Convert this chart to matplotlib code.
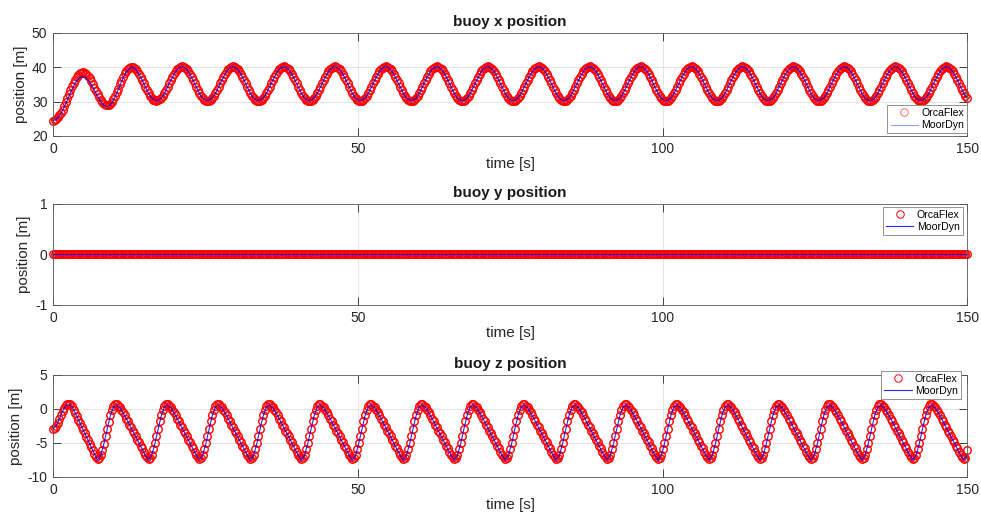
import numpy as np
import matplotlib
matplotlib.use("Agg")
import matplotlib.pyplot as plt

# sampling intervals of the two series [s]
orca_dt = 0.26125
moor_dt = 0.5225

# ---------------- buoy x position [m] ----------------
orcaflex_x = [
    24.5, 24.6, 24.9, 25.4, 26.0, 26.8, 27.7, 28.8, 29.9, 31.1, 32.2, 33.4, 34.5, 35.5, 36.4, 37.2,
    37.8, 38.2, 38.4, 38.5, 38.4, 38.0, 37.5, 36.8, 36.0, 35.1, 34.1, 33.1, 32.2, 31.3, 30.5, 29.8,
    29.3, 29.0, 28.9, 29.0, 29.4, 29.9, 30.7, 31.6, 32.7, 33.8, 35.0, 36.1, 37.2, 38.2, 38.9, 39.5, 39.9,
    40.1, 40.1, 39.8, 39.4, 38.8, 38.0, 37.2, 36.2, 35.3, 34.3, 33.3, 32.4, 31.7, 31.1, 30.6, 30.4, 30.3, 30.4, 30.7, 31.1, 31.7, 32.4, 33.3, 34.3, 35.3, 36.2, 37.2, 38.0, 38.8, 39.4, 39.8, 40.1,  # 1
    40.3, 40.2, 39.9, 39.5, 38.8, 38.1, 37.2, 36.2, 35.3, 34.3, 33.3, 32.4, 31.7, 31.0, 30.6, 30.3, 30.2, 30.3, 30.6, 31.0, 31.7, 32.4, 33.3, 34.3, 35.3, 36.2, 37.2, 38.1, 38.8, 39.5, 39.9, 40.2,  # 2
    40.3, 40.2, 39.9, 39.5, 38.8, 38.1, 37.2, 36.2, 35.3, 34.3, 33.3, 32.4, 31.7, 31.0, 30.6, 30.3, 30.2, 30.3, 30.6, 31.0, 31.7, 32.4, 33.3, 34.3, 35.3, 36.2, 37.2, 38.1, 38.8, 39.5, 39.9, 40.2,  # 3
    40.3, 40.2, 39.9, 39.5, 38.8, 38.1, 37.2, 36.2, 35.3, 34.3, 33.3, 32.4, 31.7, 31.0, 30.6, 30.3, 30.2, 30.3, 30.6, 31.0, 31.7, 32.4, 33.3, 34.3, 35.3, 36.2, 37.2, 38.1, 38.8, 39.5, 39.9, 40.2,  # 4
    40.3, 40.2, 39.9, 39.5, 38.8, 38.1, 37.2, 36.2, 35.3, 34.3, 33.3, 32.4, 31.7, 31.0, 30.6, 30.3, 30.2, 30.3, 30.6, 31.0, 31.7, 32.4, 33.3, 34.3, 35.3, 36.2, 37.2, 38.1, 38.8, 39.5, 39.9, 40.2,  # 5
    40.3, 40.2, 39.9, 39.5, 38.8, 38.1, 37.2, 36.2, 35.3, 34.3, 33.3, 32.4, 31.7, 31.0, 30.6, 30.3, 30.2, 30.3, 30.6, 31.0, 31.7, 32.4, 33.3, 34.3, 35.3, 36.2, 37.2, 38.1, 38.8, 39.5, 39.9, 40.2,  # 6
    40.3, 40.2, 39.9, 39.5, 38.8, 38.1, 37.2, 36.2, 35.3, 34.3, 33.3, 32.4, 31.7, 31.0, 30.6, 30.3, 30.2, 30.3, 30.6, 31.0, 31.7, 32.4, 33.3, 34.3, 35.3, 36.2, 37.2, 38.1, 38.8, 39.5, 39.9, 40.2,  # 7
    40.3, 40.2, 39.9, 39.5, 38.8, 38.1, 37.2, 36.2, 35.3, 34.3, 33.3, 32.4, 31.7, 31.0, 30.6, 30.3, 30.2, 30.3, 30.6, 31.0, 31.7, 32.4, 33.3, 34.3, 35.3, 36.2, 37.2, 38.1, 38.8, 39.5, 39.9, 40.2,  # 8
    40.3, 40.2, 39.9, 39.5, 38.8, 38.1, 37.2, 36.2, 35.3, 34.3, 33.3, 32.4, 31.7, 31.0, 30.6, 30.3, 30.2, 30.3, 30.6, 31.0, 31.7, 32.4, 33.3, 34.3, 35.3, 36.2, 37.2, 38.1, 38.8, 39.5, 39.9, 40.2,  # 9
    40.3, 40.2, 39.9, 39.5, 38.8, 38.1, 37.2, 36.2, 35.3, 34.3, 33.3, 32.4, 31.7, 31.0, 30.6, 30.3, 30.2, 30.3, 30.6, 31.0, 31.7, 32.4, 33.3, 34.3, 35.3, 36.2, 37.2, 38.1, 38.8, 39.5, 39.9, 40.2,  # 10
    40.3, 40.2, 39.9, 39.5, 38.8, 38.1, 37.2, 36.2, 35.3, 34.3, 33.3, 32.4, 31.7, 31.0, 30.6, 30.3, 30.2, 30.3, 30.6, 31.0, 31.7, 32.4, 33.3, 34.3, 35.3, 36.2, 37.2, 38.1, 38.8, 39.5, 39.9, 40.2,  # 11
    40.3, 40.2, 39.9, 39.5, 38.8, 38.1, 37.2, 36.2, 35.3, 34.3, 33.3, 32.4, 31.7, 31.0, 30.6, 30.3, 30.2, 30.3, 30.6, 31.0, 31.7, 32.4, 33.3, 34.3, 35.3, 36.2, 37.2, 38.1, 38.8, 39.5, 39.9, 40.2,  # 12
    40.3, 40.2, 39.9, 39.5, 38.8, 38.1, 37.2, 36.2, 35.3, 34.3, 33.3, 32.4, 31.7, 31.0, 30.6, 30.3, 30.2, 30.3, 30.6, 31.0, 31.7, 32.4, 33.3, 34.3, 35.3, 36.2, 37.2, 38.1, 38.8, 39.5, 39.9, 40.2,  # 13
    40.3, 40.2, 39.9, 39.5, 38.8, 38.1, 37.2, 36.2, 35.3, 34.3, 33.3, 32.4, 31.7, 31.0, 30.6, 30.3, 30.2, 30.3, 30.6, 31.0, 31.7, 32.4, 33.3, 34.3, 35.3, 36.2, 37.2, 38.1, 38.8, 39.5, 39.9, 40.2,  # 14
    40.3, 40.2, 39.9, 39.5, 38.8, 38.1, 37.2, 36.2, 35.3, 34.3, 33.3, 32.4, 31.7, 31.0, 30.6, 30.3, 30.2, 30.3, 30.6, 31.0, 31.7, 32.4, 33.3, 34.3, 35.3, 36.2, 37.2, 38.1, 38.8, 39.5, 39.9, 40.2,  # 15
    40.3, 40.2, 39.9, 39.5, 38.8, 38.1, 37.2, 36.2, 35.3, 34.3, 33.3, 32.4, 31.7, 31.0, 30.6, 30.3, 30.2, 30.3, 30.6, 31.0, 31.7, 32.4, 33.3, 34.3, 35.3, 36.2, 37.2, 38.1, 38.8, 39.5, 39.9, 40.2,  # 16
    40.3, 40.2, 39.9, 39.5, 38.8, 38.1, 37.2, 36.2, 35.3, 34.3, 33.3, 32.4, 31.7, 31.0,
]

moordyn_x = [
    24.5, 24.8, 25.8, 27.4, 29.4, 31.5, 33.6, 35.4, 36.7, 37.2, 37.1, 36.3, 35.0, 33.3, 31.6, 30.0,
    28.9, 28.5, 29.0, 30.4, 32.4, 34.7, 36.9, 38.6, 39.6,
    40.1, 39.4, 38.0, 36.2, 34.3, 32.4, 31.0, 30.4, 30.4, 31.0, 32.4, 34.3, 36.2, 38.0, 39.4, 40.1,  # 1
    40.1, 39.4, 38.0, 36.2, 34.3, 32.4, 31.0, 30.4, 30.4, 31.0, 32.4, 34.3, 36.2, 38.0, 39.4, 40.1,  # 2
    40.1, 39.4, 38.0, 36.2, 34.3, 32.4, 31.0, 30.4, 30.4, 31.0, 32.4, 34.3, 36.2, 38.0, 39.4, 40.1,  # 3
    40.1, 39.4, 38.0, 36.2, 34.3, 32.4, 31.0, 30.4, 30.4, 31.0, 32.4, 34.3, 36.2, 38.0, 39.4, 40.1,  # 4
    40.1, 39.4, 38.0, 36.2, 34.3, 32.4, 31.0, 30.4, 30.4, 31.0, 32.4, 34.3, 36.2, 38.0, 39.4, 40.1,  # 5
    40.1, 39.4, 38.0, 36.2, 34.3, 32.4, 31.0, 30.4, 30.4, 31.0, 32.4, 34.3, 36.2, 38.0, 39.4, 40.1,  # 6
    40.1, 39.4, 38.0, 36.2, 34.3, 32.4, 31.0, 30.4, 30.4, 31.0, 32.4, 34.3, 36.2, 38.0, 39.4, 40.1,  # 7
    40.1, 39.4, 38.0, 36.2, 34.3, 32.4, 31.0, 30.4, 30.4, 31.0, 32.4, 34.3, 36.2, 38.0, 39.4, 40.1,  # 8
    40.1, 39.4, 38.0, 36.2, 34.3, 32.4, 31.0, 30.4, 30.4, 31.0, 32.4, 34.3, 36.2, 38.0, 39.4, 40.1,  # 9
    40.1, 39.4, 38.0, 36.2, 34.3, 32.4, 31.0, 30.4, 30.4, 31.0, 32.4, 34.3, 36.2, 38.0, 39.4, 40.1,  # 10
    40.1, 39.4, 38.0, 36.2, 34.3, 32.4, 31.0, 30.4, 30.4, 31.0, 32.4, 34.3, 36.2, 38.0, 39.4, 40.1,  # 11
    40.1, 39.4, 38.0, 36.2, 34.3, 32.4, 31.0, 30.4, 30.4, 31.0, 32.4, 34.3, 36.2, 38.0, 39.4, 40.1,  # 12
    40.1, 39.4, 38.0, 36.2, 34.3, 32.4, 31.0, 30.4, 30.4, 31.0, 32.4, 34.3, 36.2, 38.0, 39.4, 40.1,  # 13
    40.1, 39.4, 38.0, 36.2, 34.3, 32.4, 31.0, 30.4, 30.4, 31.0, 32.4, 34.3, 36.2, 38.0, 39.4, 40.1,  # 14
    40.1, 39.4, 38.0, 36.2, 34.3, 32.4, 31.0, 30.4, 30.4, 31.0, 32.4, 34.3, 36.2, 38.0, 39.4, 40.1,  # 15
    40.1, 39.4, 38.0, 36.2, 34.3, 32.4, 31.0, 30.4, 30.4, 31.0, 32.4, 34.3, 36.2, 38.0, 39.4, 40.1,  # 16
    40.1, 39.4, 38.0, 36.2, 34.3, 32.4, 31.0,
]

# ---------------- buoy y position [m] ----------------
orcaflex_y = [0.0] * len(orcaflex_x)
moordyn_y = [0.0] * len(moordyn_x)

# ---------------- buoy z position [m] ----------------
orcaflex_z = [
    -2.9, -2.8, -2.5, -2.1, -1.5, -0.9, -0.3, 0.2, 0.6, 0.8, 0.8, 0.7, 0.4, -0.1, -0.6, -1.1,
    -1.6, -2.1, -2.6, -3.1, -3.6, -4.1, -4.6, -5.1, -5.6, -6.1, -6.6, -7.1, -7.4, -7.2, -6.7, -6.0,
    -5.1, -4.0, -2.9, -1.9, -0.9, -0.1, 0.4, 0.7,
    0.7, 0.5, 0.3, -0.1, -0.5, -0.9, -1.4, -1.8, -2.3, -2.7, -3.2, -3.6, -4.0, -4.5, -4.9, -5.4, -5.8, -6.3, -6.7, -7.1, -7.4, -7.2, -6.7, -5.9, -5.0, -4.0, -2.9, -1.8, -0.9, -0.1, 0.4, 0.7,  # 1
    0.7, 0.5, 0.3, -0.1, -0.5, -0.9, -1.4, -1.8, -2.3, -2.7, -3.2, -3.6, -4.0, -4.5, -4.9, -5.4, -5.8, -6.3, -6.7, -7.1, -7.4, -7.2, -6.7, -5.9, -5.0, -4.0, -2.9, -1.8, -0.9, -0.1, 0.4, 0.7,  # 2
    0.7, 0.5, 0.3, -0.1, -0.5, -0.9, -1.4, -1.8, -2.3, -2.7, -3.2, -3.6, -4.0, -4.5, -4.9, -5.4, -5.8, -6.3, -6.7, -7.1, -7.4, -7.2, -6.7, -5.9, -5.0, -4.0, -2.9, -1.8, -0.9, -0.1, 0.4, 0.7,  # 3
    0.7, 0.5, 0.3, -0.1, -0.5, -0.9, -1.4, -1.8, -2.3, -2.7, -3.2, -3.6, -4.0, -4.5, -4.9, -5.4, -5.8, -6.3, -6.7, -7.1, -7.4, -7.2, -6.7, -5.9, -5.0, -4.0, -2.9, -1.8, -0.9, -0.1, 0.4, 0.7,  # 4
    0.7, 0.5, 0.3, -0.1, -0.5, -0.9, -1.4, -1.8, -2.3, -2.7, -3.2, -3.6, -4.0, -4.5, -4.9, -5.4, -5.8, -6.3, -6.7, -7.1, -7.4, -7.2, -6.7, -5.9, -5.0, -4.0, -2.9, -1.8, -0.9, -0.1, 0.4, 0.7,  # 5
    0.7, 0.5, 0.3, -0.1, -0.5, -0.9, -1.4, -1.8, -2.3, -2.7, -3.2, -3.6, -4.0, -4.5, -4.9, -5.4, -5.8, -6.3, -6.7, -7.1, -7.4, -7.2, -6.7, -5.9, -5.0, -4.0, -2.9, -1.8, -0.9, -0.1, 0.4, 0.7,  # 6
    0.7, 0.5, 0.3, -0.1, -0.5, -0.9, -1.4, -1.8, -2.3, -2.7, -3.2, -3.6, -4.0, -4.5, -4.9, -5.4, -5.8, -6.3, -6.7, -7.1, -7.4, -7.2, -6.7, -5.9, -5.0, -4.0, -2.9, -1.8, -0.9, -0.1, 0.4, 0.7,  # 7
    0.7, 0.5, 0.3, -0.1, -0.5, -0.9, -1.4, -1.8, -2.3, -2.7, -3.2, -3.6, -4.0, -4.5, -4.9, -5.4, -5.8, -6.3, -6.7, -7.1, -7.4, -7.2, -6.7, -5.9, -5.0, -4.0, -2.9, -1.8, -0.9, -0.1, 0.4, 0.7,  # 8
    0.7, 0.5, 0.3, -0.1, -0.5, -0.9, -1.4, -1.8, -2.3, -2.7, -3.2, -3.6, -4.0, -4.5, -4.9, -5.4, -5.8, -6.3, -6.7, -7.1, -7.4, -7.2, -6.7, -5.9, -5.0, -4.0, -2.9, -1.8, -0.9, -0.1, 0.4, 0.7,  # 9
    0.7, 0.5, 0.3, -0.1, -0.5, -0.9, -1.4, -1.8, -2.3, -2.7, -3.2, -3.6, -4.0, -4.5, -4.9, -5.4, -5.8, -6.3, -6.7, -7.1, -7.4, -7.2, -6.7, -5.9, -5.0, -4.0, -2.9, -1.8, -0.9, -0.1, 0.4, 0.7,  # 10
    0.7, 0.5, 0.3, -0.1, -0.5, -0.9, -1.4, -1.8, -2.3, -2.7, -3.2, -3.6, -4.0, -4.5, -4.9, -5.4, -5.8, -6.3, -6.7, -7.1, -7.4, -7.2, -6.7, -5.9, -5.0, -4.0, -2.9, -1.8, -0.9, -0.1, 0.4, 0.7,  # 11
    0.7, 0.5, 0.3, -0.1, -0.5, -0.9, -1.4, -1.8, -2.3, -2.7, -3.2, -3.6, -4.0, -4.5, -4.9, -5.4, -5.8, -6.3, -6.7, -7.1, -7.4, -7.2, -6.7, -5.9, -5.0, -4.0, -2.9, -1.8, -0.9, -0.1, 0.4, 0.7,  # 12
    0.7, 0.5, 0.3, -0.1, -0.5, -0.9, -1.4, -1.8, -2.3, -2.7, -3.2, -3.6, -4.0, -4.5, -4.9, -5.4, -5.8, -6.3, -6.7, -7.1, -7.4, -7.2, -6.7, -5.9, -5.0, -4.0, -2.9, -1.8, -0.9, -0.1, 0.4, 0.7,  # 13
    0.7, 0.5, 0.3, -0.1, -0.5, -0.9, -1.4, -1.8, -2.3, -2.7, -3.2, -3.6, -4.0, -4.5, -4.9, -5.4, -5.8, -6.3, -6.7, -7.1, -7.4, -7.2, -6.7, -5.9, -5.0, -4.0, -2.9, -1.8, -0.9, -0.1, 0.4, 0.7,  # 14
    0.7, 0.5, 0.3, -0.1, -0.5, -0.9, -1.4, -1.8, -2.3, -2.7, -3.2, -3.6, -4.0, -4.5, -4.9, -5.4, -5.8, -6.3, -6.7, -7.1, -7.4, -7.2, -6.7, -5.9, -5.0, -4.0, -2.9, -1.8, -0.9, -0.1, 0.4, 0.7,  # 15
    0.7, 0.5, 0.3, -0.1, -0.5, -0.9, -1.4, -1.8, -2.3, -2.7, -3.2, -3.6, -4.0, -4.5, -4.9, -5.4, -5.8, -6.3, -6.7, -7.1, -7.4, -7.2, -6.7, -5.9, -5.0, -4.0, -2.9, -1.8, -0.9, -0.1, 0.4, 0.7,  # 16
    0.7, 0.5, 0.3, -0.1, -0.5, -0.9, -1.4, -1.8, -2.3, -2.7, -3.2, -3.6, -4.0, -4.5, -4.9, -5.4, -5.8, -6.3, -6.7, -7.1, -7.4, -7.2, -6.0,
]

moordyn_z = [
    -2.9, -2.5, -1.5, -0.3, 0.5, 0.6, 0.3, -0.6, -1.6, -2.6, -3.6, -4.6, -5.6, -6.6, -7.5, -6.8,
    -5.1, -3.0, -1.0, 0.3,
    0.5, 0.2, -0.6, -1.4, -2.3, -3.2, -4.1, -5.0, -5.9, -6.8, -7.5, -6.8, -5.1, -3.0, -1.0, 0.3,  # 1
    0.5, 0.2, -0.6, -1.4, -2.3, -3.2, -4.1, -5.0, -5.9, -6.8, -7.5, -6.8, -5.1, -3.0, -1.0, 0.3,  # 2
    0.5, 0.2, -0.6, -1.4, -2.3, -3.2, -4.1, -5.0, -5.9, -6.8, -7.5, -6.8, -5.1, -3.0, -1.0, 0.3,  # 3
    0.5, 0.2, -0.6, -1.4, -2.3, -3.2, -4.1, -5.0, -5.9, -6.8, -7.5, -6.8, -5.1, -3.0, -1.0, 0.3,  # 4
    0.5, 0.2, -0.6, -1.4, -2.3, -3.2, -4.1, -5.0, -5.9, -6.8, -7.5, -6.8, -5.1, -3.0, -1.0, 0.3,  # 5
    0.5, 0.2, -0.6, -1.4, -2.3, -3.2, -4.1, -5.0, -5.9, -6.8, -7.5, -6.8, -5.1, -3.0, -1.0, 0.3,  # 6
    0.5, 0.2, -0.6, -1.4, -2.3, -3.2, -4.1, -5.0, -5.9, -6.8, -7.5, -6.8, -5.1, -3.0, -1.0, 0.3,  # 7
    0.5, 0.2, -0.6, -1.4, -2.3, -3.2, -4.1, -5.0, -5.9, -6.8, -7.5, -6.8, -5.1, -3.0, -1.0, 0.3,  # 8
    0.5, 0.2, -0.6, -1.4, -2.3, -3.2, -4.1, -5.0, -5.9, -6.8, -7.5, -6.8, -5.1, -3.0, -1.0, 0.3,  # 9
    0.5, 0.2, -0.6, -1.4, -2.3, -3.2, -4.1, -5.0, -5.9, -6.8, -7.5, -6.8, -5.1, -3.0, -1.0, 0.3,  # 10
    0.5, 0.2, -0.6, -1.4, -2.3, -3.2, -4.1, -5.0, -5.9, -6.8, -7.5, -6.8, -5.1, -3.0, -1.0, 0.3,  # 11
    0.5, 0.2, -0.6, -1.4, -2.3, -3.2, -4.1, -5.0, -5.9, -6.8, -7.5, -6.8, -5.1, -3.0, -1.0, 0.3,  # 12
    0.5, 0.2, -0.6, -1.4, -2.3, -3.2, -4.1, -5.0, -5.9, -6.8, -7.5, -6.8, -5.1, -3.0, -1.0, 0.3,  # 13
    0.5, 0.2, -0.6, -1.4, -2.3, -3.2, -4.1, -5.0, -5.9, -6.8, -7.5, -6.8, -5.1, -3.0, -1.0, 0.3,  # 14
    0.5, 0.2, -0.6, -1.4, -2.3, -3.2, -4.1, -5.0, -5.9, -6.8, -7.5, -6.8, -5.1, -3.0, -1.0, 0.3,  # 15
    0.5, 0.2, -0.6, -1.4, -2.3, -3.2, -4.1, -5.0, -5.9, -6.8, -7.5, -6.8, -5.1, -3.0, -1.0, 0.3,  # 16
    0.5, 0.2, -0.6, -1.4, -2.3, -3.2, -4.1, -5.0, -5.9, -6.8, -7.5, -6.8,
]

orca_time = np.arange(len(orcaflex_x)) * orca_dt
moor_time = np.arange(len(moordyn_x)) * moor_dt

titles = ["buoy x position", "buoy y position", "buoy z position"]
x_ticks = [0, 50, 100, 150]
y_limits = [(20, 50), (-1, 1), (-10, 5)]
y_ticks = [[20, 30, 40, 50], [-1, 0, 1], [-10, -5, 0, 5]]
orca_series = [orcaflex_x, orcaflex_y, orcaflex_z]
moor_series = [moordyn_x, moordyn_y, moordyn_z]
legend_loc = ["lower right", "upper right", "upper right"]
legend_anchor = [(1.0, 0.025), (0.995, 0.97), (0.993, 1.04)]

plt.rcParams['font.family'] = ['Liberation Sans', 'DejaVu Sans']
plt.rcParams['axes.unicode_minus'] = False

fig = plt.figure(figsize=(9.81, 5.24), dpi=100, facecolor='white')
rects = [(0.054, 0.7405, 0.932, 0.1966),
         (0.054, 0.418, 0.932, 0.193),
         (0.054, 0.0897, 0.932, 0.1947)]

txt = '#262626'
for i in range(3):
    ax = fig.add_axes(rects[i])
    ax.plot(orca_time[:len(orca_series[i])], orca_series[i], linestyle='none', marker='o',
            markersize=5.4, markerfacecolor='none', markeredgecolor='red',
            markeredgewidth=1.0, label='OrcaFlex', clip_on=False, zorder=2)
    ax.plot(moor_time[:len(moor_series[i])], moor_series[i], color='blue', linewidth=0.8,
            alpha=0.85, label='MoorDyn', zorder=3)
    ax.set_xlim(0, 150)
    ax.set_ylim(*y_limits[i])
    ax.set_xticks(x_ticks)
    ax.set_yticks(y_ticks[i])
    ax.grid(True, color='#e0e0e0', linewidth=0.6)
    ax.set_axisbelow(True)
    ax.tick_params(direction='in', length=6, width=0.6, top=True, right=True,
                   labelsize=10, colors=txt, pad=4)
    for s in ax.spines.values():
        s.set_color('#5a5a5a')
        s.set_linewidth(0.6)
    ax.set_title(titles[i], fontsize=11, fontweight='bold', pad=5, color='#1a1a1a')
    ax.set_xlabel('time [s]', fontsize=11, labelpad=1, color=txt)
    ax.set_ylabel('position [m]', fontsize=11, labelpad=3, color=txt)
    leg = ax.legend(loc=legend_loc[i], bbox_to_anchor=legend_anchor[i], borderaxespad=0,
                    fontsize=7.6, frameon=True, fancybox=False, edgecolor='#808080',
                    framealpha=1, handlelength=2.6, handletextpad=0.3, borderpad=0.3,
                    labelspacing=0.2)
    leg.get_frame().set_linewidth(0.6)
    leg.legend_handles[0].set_markeredgewidth(0.7)
    if i == 0:
        leg.legend_handles[0].set_alpha(0.6)
        leg.legend_handles[1].set_alpha(0.4)

fig.savefig('out.png', dpi=100, facecolor='white')
